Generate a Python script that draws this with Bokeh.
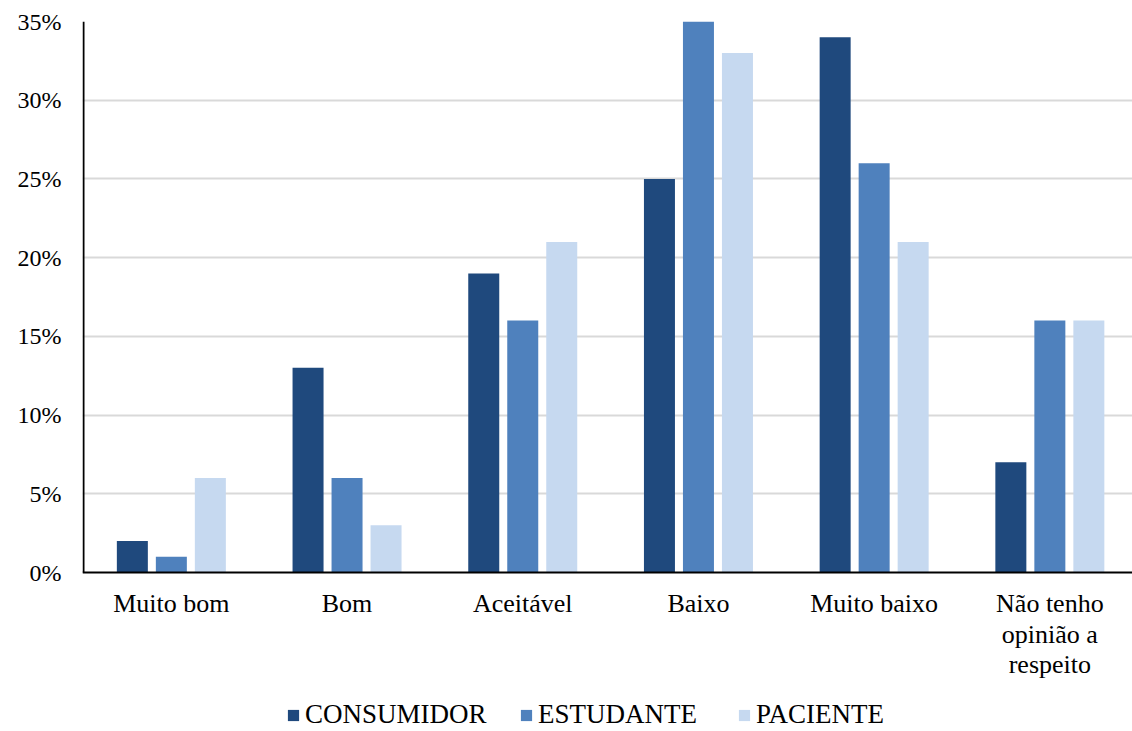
import numpy as np
from bokeh.plotting import figure
from bokeh.models import ColumnDataSource, Legend, LegendItem, FixedTicker, Span
from bokeh.core.properties import value
from bokeh.embed import file_html
from bokeh.resources import INLINE

# Survey answers by respondent group (percent)
categories = ["Muito bom", "Bom", "Aceitável", "Baixo", "Muito baixo", "Não tenho opinião a respeito"]
category_labels = ["Muito bom", "Bom", "Aceitável", "Baixo", "Muito baixo", "Não tenho\nopinião a\nrespeito"]
consumidor = [2, 13, 19, 25, 34, 7]
estudante = [1, 6, 16, 35, 26, 16]
paciente = [6, 3, 21, 33, 21, 16]
series_names = ["CONSUMIDOR", "ESTUDANTE", "PACIENTE"]
y_ticks = [0, 5, 10, 15, 20, 25, 30, 35]

colors = ["#1F497D", "#4F81BD", "#C6D9F0"]
FONT = "'Liberation Serif', 'Times New Roman', serif"

# Geometry: the frame runs from the top of the chart down to the legend row,
# so the category labels and legend can be drawn in data space below zero.
PX_PER_PCT = 15.743
PX_PER_CAT = 175.7
FRAME_W, FRAME_H = 1050, 710
X_START = -1 / PX_PER_CAT
Y_END = 35
Y_START = Y_END - FRAME_H / PX_PER_PCT

centers = np.arange(len(categories)) + 0.5
series = dict(CONSUMIDOR=consumidor, ESTUDANTE=estudante, PACIENTE=paciente)

p = figure(x_range=(X_START, X_START + FRAME_W / PX_PER_CAT), y_range=(Y_START, Y_END),
           width=1132, height=731, output_backend="svg", toolbar_location=None,
           min_border_left=82, min_border_right=0, min_border_top=21, min_border_bottom=0)
p.outline_line_color = None
p.background_fill_color = "white"
p.border_fill_color = "white"

step = 39 / PX_PER_CAT
bar_w = 31 / PX_PER_CAT
renderers = []
for i, name in enumerate(series_names):
    src = ColumnDataSource(dict(x=centers + (i - 1) * step, top=series[name]))
    r = p.vbar(x="x", top="top", width=bar_w, source=src,
               fill_color=colors[i], line_color=None)
    renderers.append(r)

# Gridlines and axis lines
p.xgrid.grid_line_color = None
p.ygrid.ticker = FixedTicker(ticks=y_ticks[1:])
p.ygrid.grid_line_color = "#D9D9D9"
p.ygrid.grid_line_width = 2

p.add_layout(Span(location=0, dimension="width", line_color="black", line_width=2))
p.segment(x0=[0], y0=[0], x1=[0], y1=[y_ticks[-1]], line_color="black", line_width=2)

p.xaxis.visible = False
p.yaxis.ticker = FixedTicker(ticks=y_ticks)
p.yaxis.major_label_overrides = {t: f"{t}%" for t in y_ticks}
p.yaxis.major_tick_line_color = None
p.yaxis.minor_tick_line_color = None
p.yaxis.axis_line_color = None
p.yaxis.major_label_text_font = FONT
p.yaxis.major_label_text_font_size = "24px"
p.yaxis.major_label_text_color = "black"
p.yaxis.major_label_standoff = 15

# Category labels, one text row per line
LINE_GAP = 30.5 / PX_PER_PCT
FIRST_LINE = -31 / PX_PER_PCT
lx, ly, lt = [], [], []
for c, lab in zip(centers, category_labels):
    for k, line in enumerate(lab.split("\n")):
        lx.append(c)
        ly.append(FIRST_LINE - k * LINE_GAP)
        lt.append(line)
p.text(x=lx, y=ly, text=lt, text_font=value(FONT), text_font_size="26px",
       text_color="black", text_align="center", text_baseline="middle")

# Legend row: one entry per series, each at its own slot under the chart
legend_slots = [204, 437, 655]
for name, r, slot in zip(series_names, renderers, legend_slots):
    legend = Legend(items=[LegendItem(label=name, renderers=[r])],
                    orientation="horizontal", location=(slot, 1),
                    label_text_font=FONT, label_text_font_size="27px", label_text_color="black",
                    glyph_width=14, glyph_height=14, label_standoff=5,
                    label_height=20, padding=0, margin=0, border_line_color=None,
                    background_fill_alpha=0)
    p.add_layout(legend, "center")

open("out.html", "w").write(file_html(p, INLINE))
